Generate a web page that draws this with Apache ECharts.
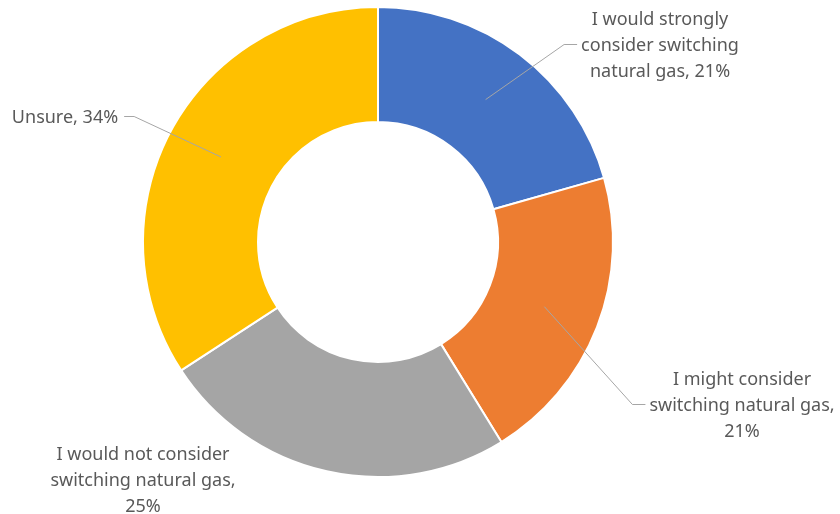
<!DOCTYPE html>
<html>
<head>
<meta charset="utf-8">
<script src="https://cdn.jsdelivr.net/npm/echarts@6/dist/echarts.min.js"></script>
<style>
html, body { margin: 0; padding: 0; background: #fff; }
#chart { width: 840px; height: 514px; }
</style>
</head>
<body>
<div id="chart"></div>
<script>
// data
var categories = ['I would strongly\nconsider switching\nnatural gas', 'I might consider\nswitching natural gas', 'I would not consider\nswitching natural gas', 'Unsure'];
var shares = [20.6, 20.6, 24.6, 34.2];
var valueOnNewLine = [false, true, true, false];
var showLeader = [true, true, false, true];
var colors = ['#4472C4', '#ED7D31', '#A5A5A5', '#FFC000'];

// where the label blocks sit (centre, px)
var labelSpots = [[660, 46], [742, 406], [143, 481], [65, 118]];

var chart = echarts.init(document.getElementById('chart'));

var slices = categories.map(function (c, i) {
  return { name: c, value: shares[i], itemStyle: { color: colors[i] } };
});

// invisible ring at mid radius, only used to carry the labels + leader lines
var labelSlices = categories.map(function (c, i) {
  return { name: c, value: shares[i], labelLine: { show: showLeader[i] } };
});

var option = {
  animation: false,
  series: [
    {
      type: 'pie',
      center: [378, 242],
      radius: [120, 235],
      startAngle: 90,
      clockwise: true,
      silent: true,
      label: { show: false },
      labelLine: { show: false },
      itemStyle: { borderColor: '#fff', borderWidth: 2 },
      data: slices
    },
    {
      type: 'pie',
      center: [378, 242],
      radius: [0, 178.5],
      startAngle: 90,
      clockwise: true,
      silent: true,
      z: 5,
      avoidLabelOverlap: false,
      itemStyle: { color: 'rgba(0,0,0,0)' },
      emphasis: { disabled: true },
      label: {
        show: true,
        position: 'outside',
        color: '#595959',
        fontFamily: 'Noto Sans',
        fontSize: 18,
        lineHeight: 26,
        align: 'center',
        formatter: function (p) {
          var sep = valueOnNewLine[p.dataIndex] ? ',\n' : ', ';
          return p.name + sep + Math.round(p.value) + '%';
        }
      },
      labelLine: {
        length: 10,
        length2: 10,
        lineStyle: { color: '#A6A6A6', width: 1 }
      },
      labelLayout: function (params) {
        var spot = labelSpots[params.dataIndex];
        var w = params.labelRect.width;
        var res = { x: spot[0], y: spot[1], align: 'center', verticalAlign: 'middle' };
        if (params.labelLinePoints && showLeader[params.dataIndex]) {
          var start = params.labelLinePoints[0];
          var onLeft = spot[0] < start[0];
          var edge = onLeft ? spot[0] + w / 2 + 6 : spot[0] - w / 2 - 4;
          var knee = onLeft ? edge + 10 : edge - 13;
          var ly = spot[1] - 1.5;
          res.labelLinePoints = [start, [knee, ly], [edge, ly]];
        }
        return res;
      },
      data: labelSlices
    }
  ]
};

chart.setOption(option);
</script>
</body>
</html>
